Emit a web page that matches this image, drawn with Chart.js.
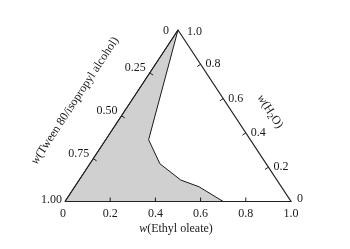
<!DOCTYPE html>
<html><head><meta charset="utf-8">
<script src="https://cdn.jsdelivr.net/npm/chart.js@4.4.1/dist/chart.umd.min.js"></script>
<style>html,body{margin:0;padding:0;background:#fff}#wrap{width:350px;height:249px}</style>
</head><body><div id="wrap"><canvas id="c" width="350" height="249"></canvas></div>
<script>
// ---- Data (ternary: w(Ethyl oleate), w(H2O), w(Tween 80/isopropyl alcohol) = 1 - oil - water)
const oilTicks = [0, 0.2, 0.4, 0.6, 0.8, 1.0];
const oilTickLabels = ['0', '0.2', '0.4', '0.6', '0.8', '1.0'];
const waterTicks = [0, 0.2, 0.4, 0.6, 0.8, 1.0];
const waterTickLabels = ['0', '0.2', '0.4', '0.6', '0.8', '1.0'];
const surfTicks = [0, 0.25, 0.50, 0.75, 1.00];
const surfTickLabels = ['0', '0.25', '0.50', '0.75', '1.00'];
const oilTitle = [['w', 'i'], ['(Ethyl oleate)', 'n']];
const waterTitle = [['w', 'i'], ['(H', 'n'], ['2', 's'], ['O)', 'n']];
const surfTitle = [['w', 'i'], ['(Tween 80/isopropyl alcohol)', 'n']];
// triangle frame vertices (oil, water)
const frameOil = [0, 1, 0, 0];
const frameWater = [0, 0, 1, 0];
// shaded region boundary (oil, water)
const regionOil = [0, 0, 0.19, 0.31, 0.45, 0.55, 0.70];
const regionWater = [0, 1.0, 0.36, 0.22, 0.125, 0.086, 0];

const toXY = (o, w) => ({x: o + w / 2, y: w});
const pts = (os, ws) => os.map((o, i) => toXY(o, ws[i]));

const FONT = '"Liberation Serif", "Times New Roman", serif';
const INK = '#1a1a1a';

function drawRich(ctx, parts, cx, cy, angle) {
  const size = 12;
  const fontFor = k => k === 'i' ? `italic ${size}px ${FONT}` : (k === 's' ? `${size - 3}px ${FONT}` : `${size}px ${FONT}`);
  let total = 0;
  const widths = parts.map(([t, k]) => { ctx.font = fontFor(k); const w = ctx.measureText(t).width; total += w; return w; });
  ctx.save();
  ctx.translate(cx, cy);
  ctx.rotate(angle);
  ctx.fillStyle = INK;
  ctx.textBaseline = 'middle';
  ctx.textAlign = 'left';
  let x = -total / 2;
  parts.forEach(([t, k], i) => {
    ctx.font = fontFor(k);
    ctx.fillText(t, x, k === 's' ? 3 : 0);
    x += widths[i];
  });
  ctx.restore();
}

const ternaryPlugin = {
  id: 'ternary',
  afterDatasetsDraw(chart) {
    const ctx = chart.ctx;
    const xs = chart.scales.x, ys = chart.scales.y;
    const P = (o, w) => { const q = toXY(o, w); return [xs.getPixelForValue(q.x), ys.getPixelForValue(q.y)]; };
    const A = P(0, 0), B = P(1, 0), C = P(0, 1);
    const unit = (p, q) => { const dx = q[0] - p[0], dy = q[1] - p[1], L = Math.hypot(dx, dy); return [dx / L, dy / L]; };
    const uL = unit(A, C), uR = unit(C, B);
    const nL = [uL[1] * -1, uL[0]]; if (nL[0] < 0) { nL[0] *= -1; nL[1] *= -1; }
    const nR = [-uR[1], uR[0]]; if (nR[0] > 0) { nR[0] *= -1; nR[1] *= -1; }
    const TL = 4;
    ctx.save();
    ctx.strokeStyle = INK;
    ctx.lineWidth = 1;
    ctx.fillStyle = INK;
    ctx.font = `12px ${FONT}`;
    // bottom axis (oil)
    oilTicks.forEach((o, i) => {
      const p = P(o, 0);
      if (o > 0 && o < 1) { ctx.beginPath(); ctx.moveTo(p[0], p[1]); ctx.lineTo(p[0], p[1] - TL); ctx.stroke(); }
      ctx.textAlign = 'center'; ctx.textBaseline = 'middle';
      ctx.fillText(oilTickLabels[i], p[0] - (o === 0 ? 2 : 0), p[1] + 12);
    });
    // right edge (water)
    waterTicks.forEach((w, i) => {
      const p = P(1 - w, w);
      if (w > 0 && w < 1) { ctx.beginPath(); ctx.moveTo(p[0], p[1]); ctx.lineTo(p[0] + nR[0] * TL, p[1] + nR[1] * TL); ctx.stroke(); }
      ctx.textAlign = 'left'; ctx.textBaseline = 'middle';
      let dx = 5, dy = 0;
      if (w === 1) { dx = 9; dy = 2; }
      if (w === 0) { dx = 6; dy = -3; }
      ctx.fillText(waterTickLabels[i], p[0] + dx, p[1] + dy);
    });
    // left edge (surfactant)
    surfTicks.forEach((s, i) => {
      const p = P(0, 1 - s);
      if (s > 0 && s < 1) { ctx.beginPath(); ctx.moveTo(p[0], p[1]); ctx.lineTo(p[0] + nL[0] * TL, p[1] + nL[1] * TL); ctx.stroke(); }
      ctx.textAlign = 'right'; ctx.textBaseline = 'middle';
      let dx = -4, dy = -5;
      if (s === 0) { dx = -9; dy = 1; }
      if (s === 1) { dx = -3; dy = -2; }
      ctx.fillText(surfTickLabels[i], p[0] + dx, p[1] + dy);
    });
    ctx.restore();
    // titles
    const bm = P(0.5, 0);
    drawRich(ctx, oilTitle, bm[0] - 2, bm[1] + 27, 0);
    const lm = P(0, 0.5);
    const oL = [-nL[0], -nL[1]];
    drawRich(ctx, surfTitle, lm[0] + oL[0] * 47 - uL[0] * 13, lm[1] + oL[1] * 47 - uL[1] * 13, Math.atan2(uL[1], uL[0]));
    const rm = P(0.5, 0.5);
    const oR = [-nR[0], -nR[1]];
    drawRich(ctx, waterTitle, rm[0] + oR[0] * 32 + uR[0] * 16, rm[1] + oR[1] * 32 + uR[1] * 16, Math.atan2(uR[1], uR[0]));
  }
};

new Chart(document.getElementById('c'), {
  type: 'scatter',
  data: {
    datasets: [
      {
        label: 'frame',
        data: pts(frameOil, frameWater),
        showLine: true, borderColor: '#222', borderWidth: 1.2, pointRadius: 0,
        fill: false, tension: 0, clip: false, order: 0
      },
      {
        label: 'region',
        data: pts(regionOil, regionWater),
        showLine: true, borderColor: '#1a1a1a', borderWidth: 1, pointRadius: 0,
        backgroundColor: '#d0d0d0', fill: 'origin', tension: 0, clip: false, order: 1
      }
    ]
  },
  options: {
    responsive: false,
    devicePixelRatio: 1,
    animation: false,
    layout: {padding: {left: 65, right: 59, top: 30, bottom: 47.5}},
    scales: {
      x: {type: 'linear', min: 0, max: 1, display: false},
      y: {type: 'linear', min: 0, max: 1, display: false}
    },
    plugins: {legend: {display: false}, tooltip: {enabled: false}}
  },
  plugins: [ternaryPlugin]
});
</script>
</body></html>
